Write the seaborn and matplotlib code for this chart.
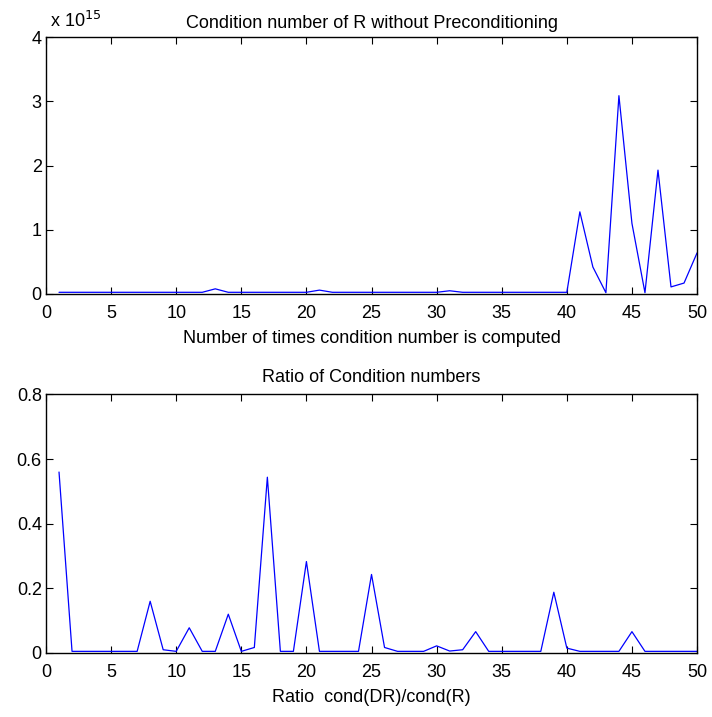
import matplotlib
matplotlib.use('Agg')
import matplotlib.pyplot as plt
from matplotlib.ticker import FuncFormatter
import seaborn as sns
import pandas as pd

# iteration index (1..50)
steps = list(range(1, 51))

# condition number of R, in units of 1e15
cond_r = [0.026] * 12 + [0.08] + [0.026] * 7 + [0.06] + [0.026] * 9 + [0.05] + [0.026] * 9 + \
    [1.28, 0.42, 0.02, 3.09, 1.10, 0.02, 1.93, 0.11, 0.17, 0.64]

# ratio cond(DR)/cond(R)
ratio = [0.56, 0.005, 0.005, 0.005, 0.005, 0.005, 0.005, 0.16, 0.01, 0.005,
         0.078, 0.005, 0.005, 0.12, 0.005, 0.017, 0.544, 0.005, 0.005, 0.283,
         0.005, 0.005, 0.005, 0.005, 0.243, 0.017, 0.005, 0.005, 0.005, 0.022,
         0.006, 0.01, 0.066, 0.005, 0.005, 0.005, 0.005, 0.005, 0.188, 0.015,
         0.005, 0.005, 0.005, 0.005, 0.066, 0.005, 0.005, 0.005, 0.005, 0.005]

df = pd.DataFrame({'step': steps, 'cond': cond_r, 'ratio': ratio})

sns.set_style('ticks')
plt.rcParams['font.family'] = ['Liberation Sans', 'DejaVu Sans']
plt.rcParams['xtick.direction'] = 'in'
plt.rcParams['ytick.direction'] = 'in'
plt.rcParams['text.color'] = 'black'
plt.rcParams['axes.labelcolor'] = 'black'
plt.rcParams['xtick.color'] = 'black'
plt.rcParams['ytick.color'] = 'black'
plt.rcParams['axes.edgecolor'] = 'black'

FS = 13

fig = plt.figure(figsize=(7.12, 7.17), dpi=100)
ax1 = fig.add_axes([0.0646, 0.590, 0.9144, 0.358])
ax2 = fig.add_axes([0.0646, 0.0893, 0.9144, 0.3605])

fmt = FuncFormatter(lambda v, p: f'{v:g}')

sns.lineplot(data=df, x='step', y='cond', ax=ax1, color='#0000ff', linewidth=0.9)
ax1.set_xlim(0, 50)
ax1.set_ylim(0, 4)
ax1.set_yticks([0, 1, 2, 3, 4])
ax1.set_title('Condition number of R without Preconditioning', fontsize=FS, pad=7)
ax1.set_xlabel('Number of times condition number is computed', fontsize=FS, labelpad=6)
ax1.set_ylabel('')
ax1.text(0.006, 1.0 + 10 / 257, r'x 10$^{15}$', transform=ax1.transAxes, fontsize=FS,
         ha='left', va='baseline')

sns.lineplot(data=df, x='step', y='ratio', ax=ax2, color='#0000ff', linewidth=0.9)
ax2.set_xlim(0, 50)
ax2.set_ylim(0, 0.8)
ax2.set_yticks([0, 0.2, 0.4, 0.6, 0.8])
ax2.set_title('Ratio of Condition numbers', fontsize=FS, pad=9)
ax2.set_xlabel('Ratio  cond(DR)/cond(R)', fontsize=FS, labelpad=6)
ax2.set_ylabel('')

for ax in (ax1, ax2):
    ax.set_xticks(range(0, 51, 5))
    ax.xaxis.set_major_formatter(fmt)
    ax.yaxis.set_major_formatter(fmt)
    ax.tick_params(which='both', top=True, right=True, length=5, width=0.8,
                   labelsize=FS)
    ax.tick_params(axis='x', pad=8)
    ax.tick_params(axis='y', pad=3)
    for s in ax.spines.values():
        s.set_linewidth(1.0)

fig.savefig('out.png', dpi=100)
